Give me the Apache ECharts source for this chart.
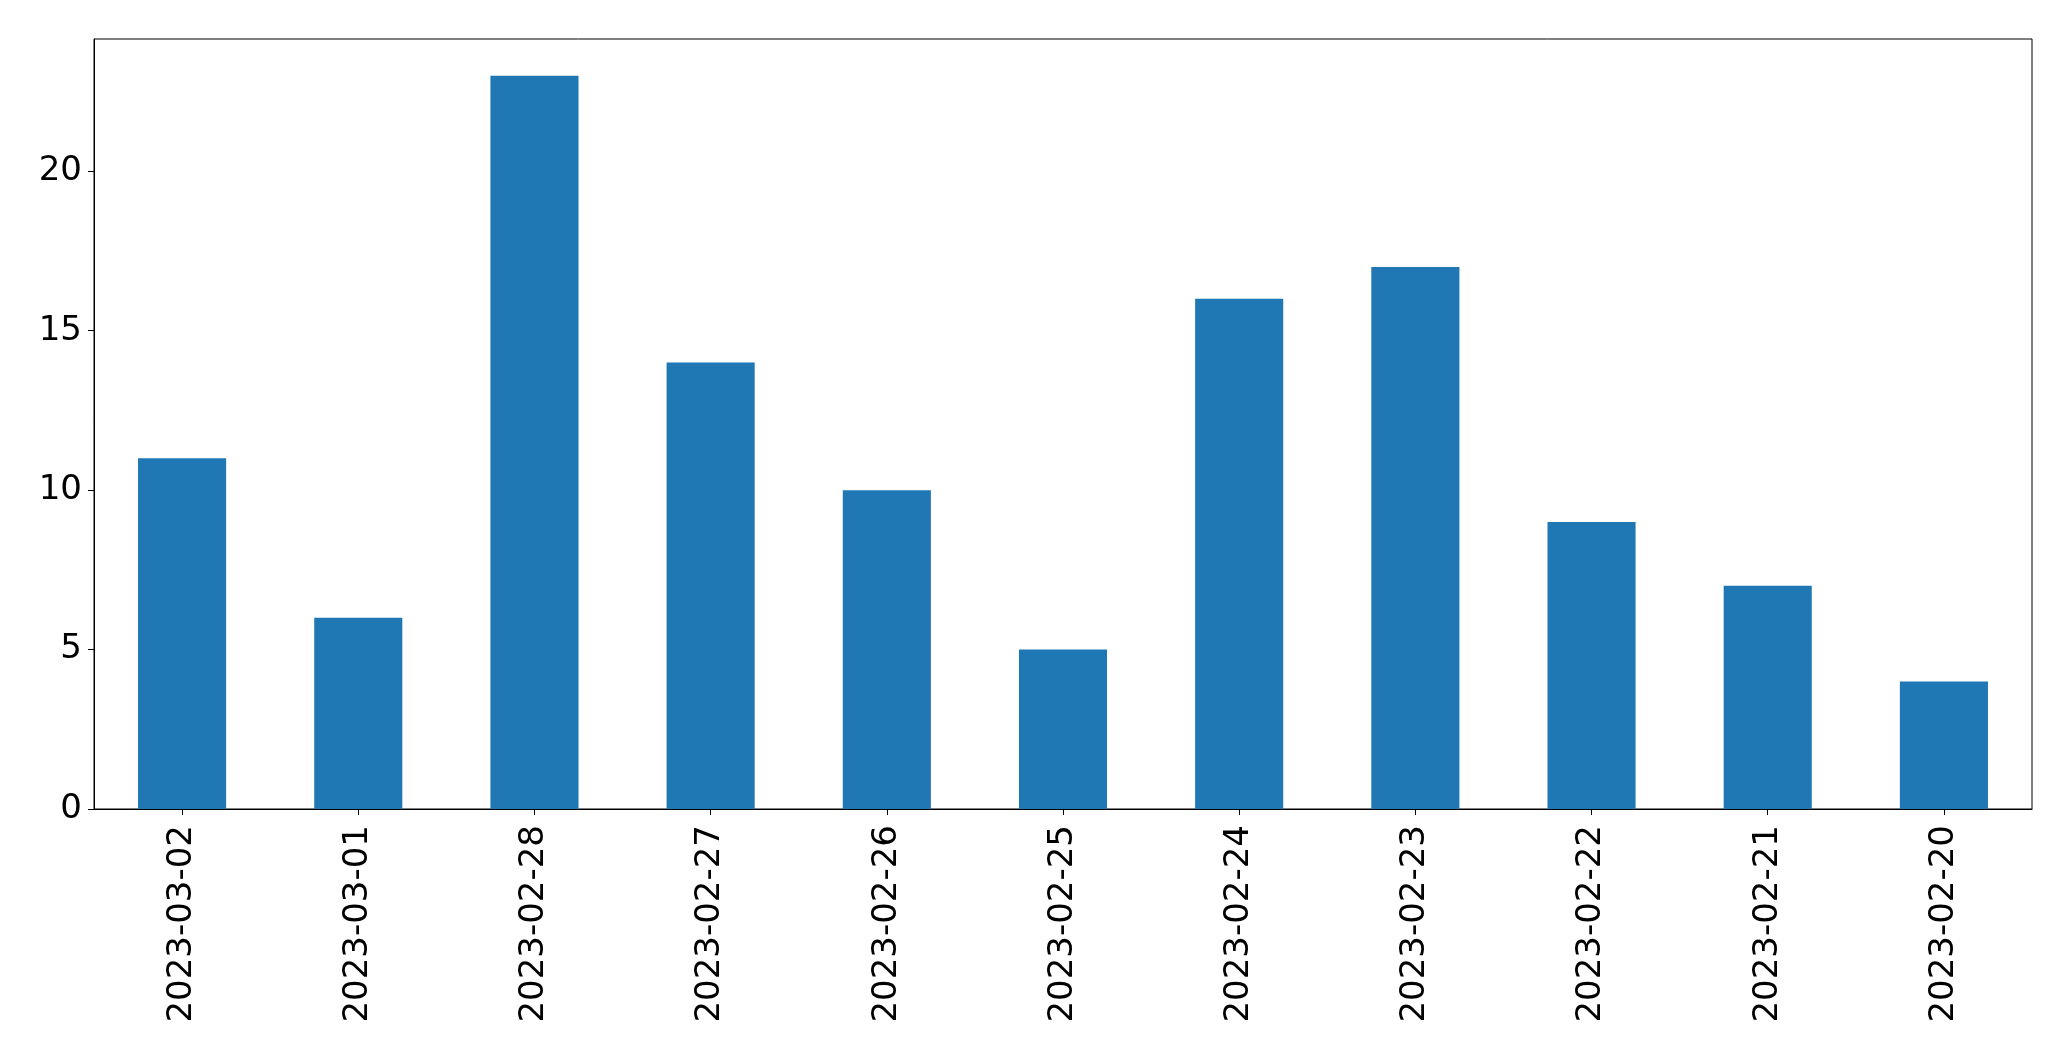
<!DOCTYPE html>
<html>
<head>
<meta charset="utf-8">
<script src="https://cdn.jsdelivr.net/npm/echarts@6/dist/echarts.min.js"></script>
<style>html,body{margin:0;padding:0;background:#fff}#c{width:2071px;height:1061px}</style>
</head>
<body>
<div id="c"></div>
<script>
const categories = ["2023-03-02","2023-03-01","2023-02-28","2023-02-27","2023-02-26","2023-02-25","2023-02-24","2023-02-23","2023-02-22","2023-02-21","2023-02-20"];
const values = [11, 6, 23, 14, 10, 5, 16, 17, 9, 7, 4];
const yTicks = [0, 5, 10, 15, 20];

const chart = echarts.init(document.getElementById('c'), null, {renderer: 'canvas'});
const font = '"DejaVu Sans", sans-serif';
chart.setOption({
  animation: false,
  backgroundColor: '#fff',
  grid: {left: 94, right: 39, top: 39, bottom: 252, show: true, borderColor: '#000', borderWidth: 1, backgroundColor: 'transparent'},
  xAxis: {
    type: 'category',
    data: categories,
    boundaryGap: true,
    axisLine: {show: true, lineStyle: {color: '#000', width: 1}},
    axisTick: {show: true, alignWithLabel: true, length: 6, lineStyle: {color: '#000', width: 1}},
    axisLabel: {rotate: 90, margin: 16, fontSize: 34, fontFamily: font, color: '#000', interval: 0},
    splitLine: {show: false}
  },
  yAxis: {
    type: 'value',
    min: 0,
    max: 24.15,
    interval: 5,
    axisLine: {show: true, lineStyle: {color: '#000', width: 1}},
    axisTick: {show: true, length: 6, customValues: yTicks, lineStyle: {color: '#000', width: 1}},
    axisLabel: {margin: 12, fontSize: 34, fontFamily: font, color: '#000', customValues: yTicks},
    splitLine: {show: false}
  },
  series: [{
    type: 'bar',
    data: values,
    barWidth: '50%',
    itemStyle: {color: '#1f77b4'}
  }]
});
</script>
</body>
</html>
